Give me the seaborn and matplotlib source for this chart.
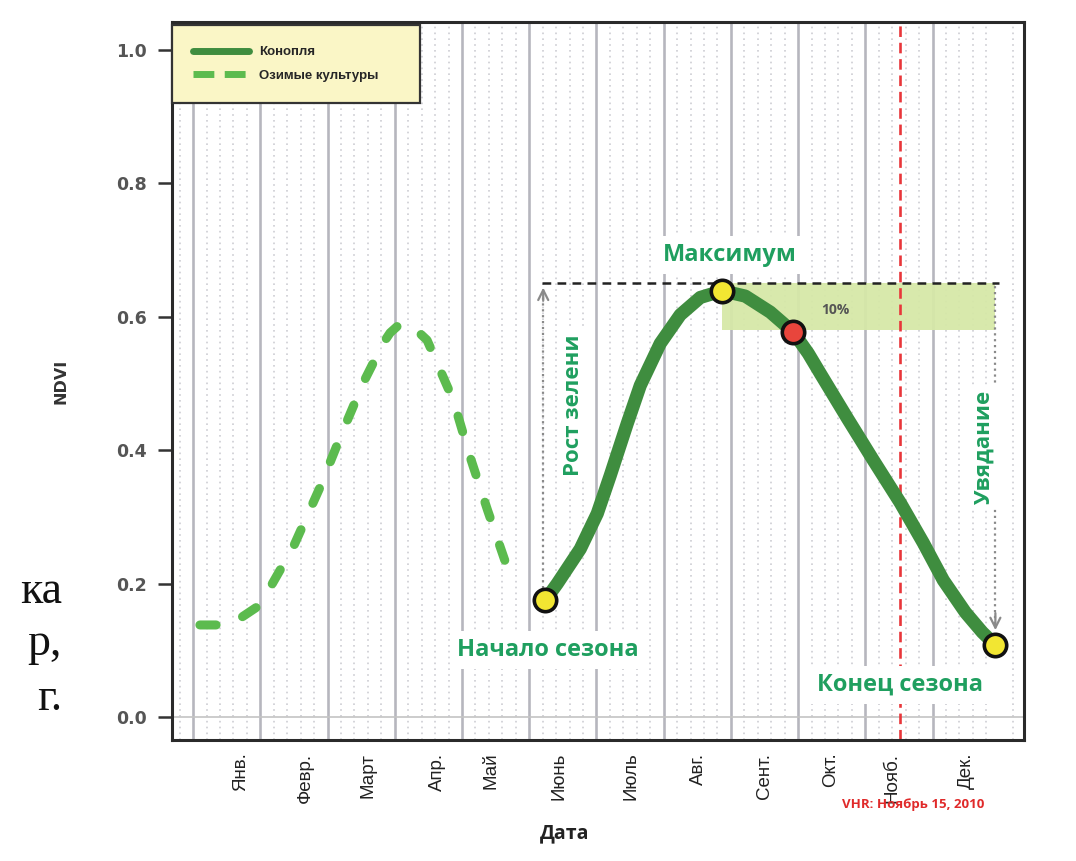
import seaborn as sns
import matplotlib.pyplot as plt
from matplotlib.lines import Line2D
import numpy as np

# month labels and where they sit on the x axis (months from Jan line)
months = ["Янв.", "Февр.", "Март", "Апр.", "Май", "Июнь",
          "Июль", "Авг.", "Сент.", "Окт.", "Нояб.", "Дек."]
month_pos = [0.70, 1.67, 2.60, 3.64, 4.43, 5.45, 6.52, 7.52, 8.50, 9.48, 10.40, 11.50]

# hemp curve (solid)
hemp_x = [5.238, 5.417, 5.759, 6.012, 6.205, 6.458, 6.652, 6.949, 7.247, 7.545,
          7.872, 8.214, 8.586, 8.929, 9.152, 9.330, 9.732, 10.119, 10.521, 10.863,
          11.161, 11.488, 11.741, 11.935]
hemp_y = [0.175, 0.200, 0.252, 0.305, 0.362, 0.440, 0.497, 0.560, 0.603, 0.629,
          0.639, 0.631, 0.607, 0.577, 0.545, 0.515, 0.448, 0.385, 0.321, 0.261,
          0.205, 0.157, 0.127, 0.108]

# winter crops curve (dashed)
winter_x = [0.10, 0.55, 0.95, 1.15, 1.49, 1.89, 2.19, 2.53, 2.83, 2.93, 3.04,
            3.15, 3.30, 3.48, 3.87, 4.12, 4.38, 4.67, 4.82]
winter_y = [0.138, 0.138, 0.165, 0.195, 0.255, 0.345, 0.420, 0.501, 0.561, 0.576, 0.586,
            0.591, 0.582, 0.565, 0.475, 0.390, 0.310, 0.225, 0.201]

# key season points
yellow_x = [5.238, 7.872, 11.935]
yellow_y = [0.175, 0.639, 0.108]
red_x = [8.929]
red_y = [0.577]

top_level = 0.65       # max line
thr_level = 0.58       # 10% below max
vhr_x = 10.52          # VHR image date

sns.set_style("white")
plt.rcParams['font.family'] = ['Liberation Sans', 'DejaVu Sans']

fig = plt.figure(figsize=(10.76, 8.61), dpi=100)
ax = fig.add_axes([0.160, 0.1405, 0.792, 0.834])
ax.set_xlim(-0.3125, 12.366)
ax.set_ylim(-0.0345, 1.042)

# grid: solid month lines + dotted minor lines
for k in range(12):
    ax.axvline(k, color='#b6b6be', lw=1.9, zorder=1)
for m in np.arange(-0.2, 12.3, 0.2):
    if abs(m - round(m)) > 0.05:
        ax.axvline(m, color='#cdcdd3', lw=1.2, linestyle=(0, (1, 2.5)), zorder=1)
ax.axhline(0, color='#c4c4c4', lw=1.2, zorder=1)

# 10% band and max dashed line
ax.fill_between([yellow_x[1], yellow_x[2]], thr_level, top_level,
                color='#d6e8a8', alpha=0.95, lw=0, zorder=2)
ax.hlines(top_level, yellow_x[0] - 0.05, yellow_x[2] + 0.05, colors='#222222',
          linestyles=(0, (3.5, 2.5)), lw=1.8, zorder=3)

# VHR date
ax.axvline(vhr_x, color='#e8363a', lw=1.9, linestyle=(0, (4, 2.2)), zorder=2)

# arrows: green-up and senescence
ax.vlines(yellow_x[0] - 0.03, yellow_y[0], top_level - 0.01, colors='#8a8a8a',
          linestyles=':', lw=1.6, zorder=2)
ax.annotate('', xy=(yellow_x[0] - 0.03, top_level - 0.002),
            xytext=(yellow_x[0] - 0.03, top_level - 0.03),
            arrowprops=dict(arrowstyle='->', color='#8a8a8a', lw=1.6, mutation_scale=18),
            zorder=2)
ax.vlines(yellow_x[2], 0.14, top_level, colors='#8a8a8a', linestyles=':', lw=1.6, zorder=2)
ax.annotate('', xy=(yellow_x[2], 0.126), xytext=(yellow_x[2], 0.16),
            arrowprops=dict(arrowstyle='->', color='#8a8a8a', lw=1.6, mutation_scale=18),
            zorder=2)

# curves
sns.lineplot(x=winter_x, y=winter_y, ax=ax, color='#5cbb4e', lw=6.5,
             linestyle=(0, (1.8, 3.2)), dash_capstyle='round', zorder=4)
sns.lineplot(x=hemp_x, y=hemp_y, ax=ax, color='#3f8d3f', lw=9.5,
             solid_capstyle='round', solid_joinstyle='round', zorder=4)

# points
sns.scatterplot(x=yellow_x, y=yellow_y, ax=ax, color='#f2e632', s=260,
                edgecolor='#111111', linewidth=2.6, zorder=6)
sns.scatterplot(x=red_x, y=red_y, ax=ax, color='#e8453c', s=260,
                edgecolor='#111111', linewidth=2.6, zorder=6)

# annotations
green = '#1f9f5f'
tfont = ['Open Sans', 'DejaVu Sans']
box = dict(facecolor='white', edgecolor='none', pad=5)
ax.text(7.99, 0.693, "Максимум", color=green, fontsize=17, fontweight='bold',
        family=tfont, ha='center', va='center', bbox=box, zorder=5)
ax.text(5.28, 0.100, "Начало сезона", color=green, fontsize=17, fontweight='bold',
        family=tfont, ha='center', va='center', bbox=box, zorder=5)
ax.text(10.52, 0.048, "Конец сезона", color=green, fontsize=17, fontweight='bold',
        family=tfont, ha='center', va='center', bbox=box, zorder=5)
ax.text(5.66, 0.468, "Рост зелени", color=green, fontsize=16, fontweight='bold',
        family=tfont, ha='center', va='center', rotation=90,
        bbox=dict(facecolor='white', edgecolor='none', pad=3), zorder=5)
ax.text(11.76, 0.405, "Увядание", color=green, fontsize=16, fontweight='bold',
        family=tfont, ha='center', va='center', rotation=90,
        bbox=dict(facecolor='white', edgecolor='none', pad=3), zorder=5)
ax.text(9.55, 0.610, "10%", color='#555555', fontsize=10, fontweight='bold',
        family=tfont, ha='center', va='center', zorder=5)

# axes styling
for side in ['left', 'top', 'right', 'bottom']:
    ax.spines[side].set_color('#2a2a2a')
    ax.spines[side].set_linewidth(2.2)
ax.spines['bottom'].set_linestyle((0, (4, 1)))

ax.set_yticks([0.0, 0.2, 0.4, 0.6, 0.8, 1.0])
ax.set_yticklabels(["0.0", "0.2", "0.4", "0.6", "0.8", "1.0"],
                   family='DejaVu Sans', fontweight='bold', fontsize=12.5, color='#555555')
ax.tick_params(axis='y', direction='out', length=10, width=1.8, color='#333333', pad=8, left=True)
ax.set_xticks(month_pos)
ax.set_xticklabels(months, rotation=90, fontsize=13.5, color='#222222',
                   family=['Liberation Sans', 'DejaVu Sans'])
ax.tick_params(axis='x', length=0, pad=9)

ax.set_ylabel("NDVI", family='DejaVu Sans', fontweight='bold', fontsize=11.5, color='#333333')
ax.yaxis.set_label_coords(-0.122, 0.5)
ax.set_xlabel("Дата", family=tfont, fontweight='bold', fontsize=14, color='#222222')
ax.xaxis.set_label_coords(0.461, -0.116)

ax.text(0.87, -0.09, "VHR: Ноябрь 15, 2010", transform=ax.transAxes, color='#e02a2a',
        fontsize=9.5, fontweight='bold', family=tfont, ha='center', va='center')

# legend
handles = [Line2D([], [], color='#3f8d3f', lw=5),
           Line2D([], [], color='#5cbb4e', lw=5, linestyle=(0, (3, 1.5)))]
leg = ax.legend(handles, ["Конопля", "Озимые культуры"], loc='upper left',
                bbox_to_anchor=(0.0, 0.0, 0.291, 0.996), mode='expand', borderaxespad=0,
                fancybox=False, framealpha=1, facecolor='#faf6c6', edgecolor='#333333',
                handlelength=4.2, borderpad=1.6, labelspacing=0.85,
                prop={'size': 9.5, 'weight': 'bold'})
leg.get_frame().set_linewidth(1.6)
leg.set_zorder(7)

# cut-off slide text at the left edge
for txt, yb in [("ка", 603), ("р,", 655), ("г.", 710)]:
    fig.text(62 / 1076, 1 - yb / 861, txt, ha='right', va='baseline',
             family=['Liberation Serif', 'DejaVu Serif'], fontsize=33, color='#111111')

fig.savefig("out.png", dpi=100)
